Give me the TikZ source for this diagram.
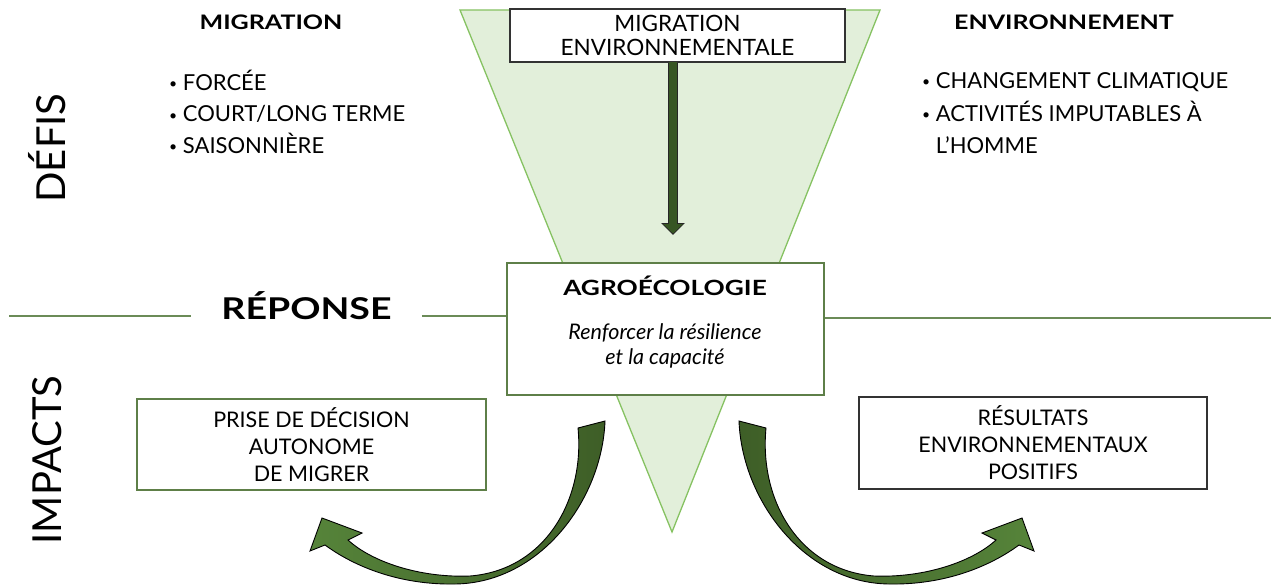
\documentclass[tikz,border=0pt]{standalone}
\usepackage{fontspec}
\setmainfont{Lato}
\newfontfamily\headfont{Lato}[FakeStretch=1.25]
\usetikzlibrary{arrows.meta}

\definecolor{funnelfill}{HTML}{E2EFDA}
\definecolor{funneledge}{HTML}{86C262}
\definecolor{rulegreen}{HTML}{6B8B57}
\definecolor{boxgreen}{HTML}{5E7F48}
\definecolor{arrowdark}{HTML}{3E5E27}
\definecolor{arrowlight}{HTML}{56843A}
\definecolor{shaftgreen}{HTML}{375623}

\newcommand\dotitem{\raisebox{1.5pt}{\fontsize{14}{14}\selectfont\textbullet}}

\tikzset{
  side/.style={rotate=90, inner sep=0pt, font=\fontsize{40}{40}\selectfont},
  head/.style={inner sep=0pt, font=\headfont\bfseries\fontsize{20}{20}\selectfont},
  item/.style={anchor=base west, inner sep=0pt, font=\fontsize{22}{22}\selectfont},
  plainbox/.style={draw=#1, fill=white, line width=1.3pt, align=center,
    inner sep=0pt, font=\fontsize{21.5}{27}\selectfont},
  rule/.style={draw=rulegreen, line width=2.5pt},
  bentarrow/.style={draw=black, line width=0.9pt},
}

\begin{document}
\begin{tikzpicture}[x=1pt,y=-1pt]
\useasboundingbox (0,0) rectangle (1273,586);

% funnel behind everything
\filldraw[fill=funnelfill, draw=funneledge, line width=1.3pt]
  (460,10) -- (880,10) -- (672,532) -- cycle;

% side titles
\node[side] (defis) at (47,148) {DÉFIS};
\node[side] (impacts) at (47,460) {IMPACTS};

% challenges
\node[head] (hmig) at (271,22) {MIGRATION};
\node[head] (henv) at (1064,22) {ENVIRONNEMENT};
\foreach \t [count=\i from 0] in {FORCÉE, {COURT/LONG TERME}, SAISONNIÈRE}
  \node[item] (mig\i) at (169,{90+31.5*\i}) {\dotitem\ \t};
\node[item] (env0) at (922,88) {\dotitem\ CHANGEMENT CLIMATIQUE};
\node[item] (env1) at (922,121) {\dotitem\ ACTIVITÉS IMPUTABLES À};
\node[item] (env2) at (922,153) {\phantom{\dotitem}\ L’HOMME};

% environmental migration
\node[plainbox=black!80, minimum width=335pt, minimum height=53pt,
  font=\fontsize{22.5}{24}\selectfont] (migenv) at (677.5,35.5)
  {MIGRATION\\ENVIRONNEMENTALE};
\coordinate (dtip) at (673,235);
\draw[line width=10pt, draw=black!85, -{Triangle[length=12pt,width=23pt]}]
  (migenv.south -| dtip) -- (dtip);
\draw[line width=8pt, draw=shaftgreen, shorten >=1.5pt,
  -{Triangle[length=9.5pt,width=19pt]}]
  ([yshift=1pt]migenv.south -| dtip) -- (dtip);

% response
\node[plainbox=boxgreen, line width=1.8pt, minimum width=317pt,
  minimum height=132pt] (agro) at (665.5,329) {};
\node[anchor=base, font=\headfont\bfseries\fontsize{21}{21}\selectfont]
  (agrotitle) at (665,295) {AGROÉCOLOGIE};
\node[anchor=base, font=\itshape\fontsize{21.5}{21.5}\selectfont]
  (agrol1) at (665,339) {Renforcer la résilience};
\node[anchor=base, font=\itshape\fontsize{21.5}{21.5}\selectfont]
  (agrol2) at (665,364) {et la capacité};

\node[anchor=base, inner xsep=30pt, inner ysep=0pt,
  font=\headfont\bfseries\fontsize{30}{30}\selectfont] (reponse) at (306.5,319) {RÉPONSE};
\coordinate (ruleL) at (9,316);
\coordinate (ruleR) at (1271,318);
\draw[rule] (ruleL) -- (ruleL -| reponse.west);
\draw[rule] (reponse.east |- ruleL) -- (ruleL -| agro.west);
\draw[rule] (agro.east |- ruleR) -- (ruleR);

% impacts
\node[plainbox=boxgreen, minimum width=349pt, minimum height=91pt]
  (decision) at (311.5,444.5) {PRISE DE DÉCISION\\AUTONOME\\DE MIGRER};
\node[plainbox=black!80, minimum width=348pt, minimum height=92pt]
  (resultats) at (1033,443) {RÉSULTATS\\ENVIRONNEMENTAUX\\POSITIFS};

% curved arrows, the right one mirrored
\foreach \s/\dx/\cl/\cr in {1/0pt/arrowlight/arrowdark, -1/1344pt/arrowdark/arrowlight}{
  \begin{scope}[xshift=\dx, xscale=\s]
  \shadedraw[bentarrow, left color=\cl, right color=\cr]
    (605,421) .. controls (602,500) and (540,583) .. (455,584)
    .. controls (400,585) and (355,567) .. (325,545)
    -- (310,551) -- (322,518) -- (362,533) -- (348,540)
    .. controls (372,562) and (420,578) .. (470,576)
    .. controls (545,570) and (585,500) .. (578,428) -- cycle;
  \end{scope}
}
\end{tikzpicture}
\end{document}
